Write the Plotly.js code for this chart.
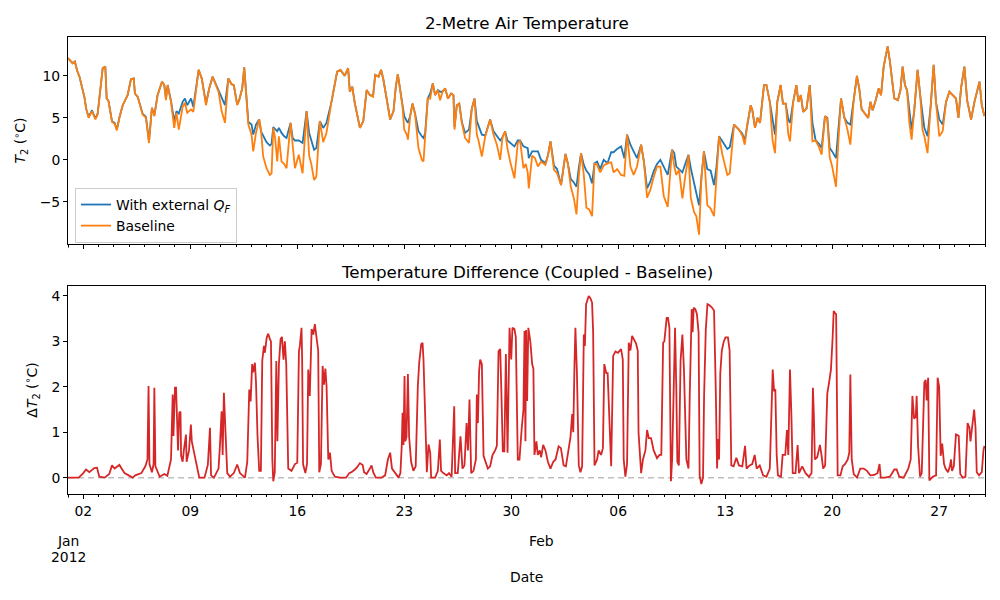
<!DOCTYPE html>
<html>
<head>
<meta charset="utf-8">
<script src="https://cdn.plot.ly/plotly-3.0.1.min.js"></script>
<style>
  html, body { margin: 0; padding: 0; background: #fff; }
  #chart { width: 1000px; height: 600px; }
</style>
</head>
<body>
<div id="chart"></div>
<script>
// Hourly model output, sampled at the turning points; time is in days since 2012-01-01 00:00 UTC.
const tDays = [
  0.00,0.15,0.30,0.45,0.60,0.75,0.90,1.07,1.20,1.35,1.57,1.79,1.94,2.16,2.27,2.44,2.53,2.65,2.88,3.05,
  3.20,3.36,3.58,3.90,4.12,4.30,4.38,4.56,4.88,5.10,5.30,5.49,5.65,5.86,6.15,6.30,6.41,6.52,6.74,6.95,
  7.10,7.25,7.50,7.65,7.80,8.05,8.20,8.55,8.75,9.03,9.24,9.46,9.65,9.85,10.05,10.27,10.49,10.70,10.85,11.07,
  11.20,11.40,11.53,11.69,11.80,12.01,12.12,12.30,12.51,12.62,12.77,12.99,13.21,13.32,13.43,13.55,13.69,13.80,13.97,14.15,
  14.30,14.56,14.70,14.85,15.10,15.35,15.61,15.78,15.92,16.10,16.25,16.48,16.70,16.91,17.24,17.46,17.61,17.83,17.97,18.10,
  18.33,18.44,18.60,18.77,19.10,19.32,19.54,19.76,19.96,20.10,20.32,20.49,20.64,20.86,21.08,21.30,21.45,21.58,21.73,21.89,
  22.00,22.17,22.24,22.39,22.54,22.71,22.93,23.15,23.26,23.37,23.54,23.70,23.87,24.02,24.20,24.35,24.50,24.68,24.86,25.07,
  25.22,25.29,25.44,25.60,25.77,25.98,26.24,26.42,26.60,26.75,26.86,27.08,27.30,27.62,27.84,28.06,28.28,28.43,28.60,28.75,
  28.93,29.21,29.43,29.58,29.80,29.95,30.08,30.15,30.37,30.55,30.75,30.95,31.24,31.40,31.57,31.80,32.00,32.26,32.55,32.70,
  32.90,33.10,33.27,33.42,33.57,33.75,33.92,34.10,34.29,34.45,34.62,34.82,35.05,35.30,35.54,35.70,35.93,36.19,36.40,36.58,
  36.80,37.01,37.23,37.50,37.68,37.89,38.10,38.33,38.54,38.76,38.98,39.24,39.52,39.67,39.80,39.98,40.20,40.40,40.60,40.75,
  40.96,41.11,41.29,41.45,41.61,41.83,42.05,42.27,42.42,42.60,42.82,43.14,43.30,43.58,43.90,44.12,44.28,44.46,44.67,44.78,
  44.95,45.12,45.28,45.54,45.70,45.92,46.10,46.26,46.41,46.63,46.78,46.96,47.13,47.24,47.45,47.66,47.79,47.95,48.10,48.32,
  48.53,48.71,48.92,49.14,49.31,49.53,49.68,49.84,50.00,50.25,50.40,50.58,50.80,51.00,51.19,51.40,51.62,51.77,51.93,52.10,
  52.36,52.50,52.65,52.85,53.04,53.20,53.37,53.63,53.78,53.96,54.07,54.30,54.47,54.61,54.76,54.90,55.05,55.20,55.37,55.59,
  55.76,55.91,56.03,56.24,56.45,56.64,56.79,57.01,57.23,57.45,57.67,57.89,58.10,58.26,58.43,58.65,58.83,59.09,59.31,59.64,
  59.79,59.96
];

// 2 m temperature (°C) with the external anthropogenic heat flux
const tCoupled = [
  12.1,11.8,11.5,11.7,10.6,9.9,8.7,7.5,6.0,5.1,5.9,4.9,5.5,8.9,10.9,11.1,7.3,7.0,4.6,4.4,
  3.6,5.0,6.5,7.7,9.6,9.7,7.9,7.5,5.5,5.1,2.2,6.2,5.3,7.7,9.3,8.9,7.3,8.9,7.0,4.6,
  5.8,5.5,6.9,7.3,6.5,7.3,6.3,10.7,9.7,6.7,8.5,9.9,9.1,8.3,7.5,6.5,9.7,9.0,8.9,6.6,
  7.1,8.5,11.0,6.9,4.5,4.2,3.0,4.2,4.8,3.4,2.8,2.1,1.7,1.9,3.9,3.6,3.4,3.8,3.2,2.8,
  2.6,4.4,2.6,2.3,2.3,2.0,5.8,3.2,2.3,1.2,1.4,4.6,3.8,4.4,6.9,8.9,10.5,10.7,10.3,10.0,
  10.9,8.1,8.7,6.7,3.8,4.6,8.3,7.7,7.6,10.1,9.9,10.7,9.5,7.3,4.8,5.8,8.7,10.2,8.5,6.4,
  5.2,4.6,4.4,5.2,6.7,5.5,3.4,2.8,2.6,3.2,7.3,7.9,9.1,7.7,8.3,8.1,8.1,8.5,7.3,7.9,
  7.7,3.9,6.5,6.7,4.5,3.2,3.6,6.1,7.3,4.6,4.0,3.0,2.9,4.8,3.4,2.8,2.3,2.7,3.4,2.3,
  2.0,1.6,2.3,2.3,1.6,1.5,1.4,0.2,1.0,1.0,1.0,0.0,-0.4,0.5,2.2,-0.7,-1.1,-3.0,0.7,-0.4,
  -2.3,-2.7,-3.2,-1.0,0.8,-0.6,-1.3,-1.7,-2.8,-0.4,-0.2,-1.1,0.0,-0.4,0.9,0.9,1.3,1.6,0.2,3.0,
  1.8,1.0,0.2,1.8,-0.2,-3.4,-2.6,-1.3,-0.5,0.0,-0.8,-1.8,1.2,0.8,-0.8,-1.1,-1.5,-0.4,0.6,-1.0,
  -2.6,-3.8,-5.4,-2.0,1.0,-1.1,-1.3,-3.0,-1.0,2.8,2.2,1.3,1.5,4.2,3.6,3.1,2.3,4.4,6.5,5.9,
  3.8,5.0,4.4,8.9,8.9,6.9,4.6,3.0,6.9,8.9,6.7,6.7,4.8,4.4,6.9,8.9,6.9,7.7,5.7,6.1,
  8.9,4.4,2.3,1.9,1.4,5.2,5.0,1.4,1.0,0.2,3.5,7.3,5.0,4.4,4.2,6.9,10.0,8.5,6.0,5.6,
  5.0,6.9,5.9,7.1,8.5,7.7,11.1,13.5,11.7,8.9,7.3,7.1,8.3,11.1,8.9,8.3,5.8,3.6,5.8,10.7,
  7.7,5.2,3.8,2.8,6.5,11.3,6.9,4.8,4.2,6.9,8.1,7.7,7.3,5.0,8.5,11.1,7.1,4.8,6.9,9.3,
  6.5,5.2
];

// 2 m temperature (°C) of the baseline run
const tBaseline = [
  12.1,11.8,11.5,11.7,10.6,9.9,8.7,7.5,6.0,5.0,5.8,4.8,5.4,8.9,10.9,11.1,7.3,7.0,4.5,4.3,
  3.5,5.0,6.5,7.7,9.6,9.7,7.9,7.5,5.4,5.0,2.0,6.2,5.2,7.7,9.3,8.9,7.1,8.9,6.9,3.8,
  5.6,3.6,6.3,6.8,5.6,6.0,5.7,10.7,9.7,6.5,8.5,9.9,9.1,8.1,5.8,4.4,9.7,9.0,8.9,6.5,
  7.1,8.5,11.0,6.9,4.2,3.0,1.0,3.2,4.8,3.7,0.4,-1.0,-1.8,-1.6,3.8,2.6,-0.2,2.8,-0.2,-0.5,
  -1.0,4.4,1.8,-1.0,0.6,-1.6,5.8,0.5,-0.5,-2.4,-2.0,4.6,2.1,3.2,6.9,8.9,10.5,10.7,10.3,10.0,
  10.9,8.1,8.7,6.7,3.8,4.6,8.3,7.7,7.5,10.1,9.9,10.7,9.5,7.3,4.8,5.8,8.7,10.2,8.5,6.3,
  3.6,3.0,2.4,5.2,6.7,5.4,1.4,0.0,-0.2,2.8,7.3,7.3,9.1,7.7,8.3,7.1,8.1,8.5,7.3,7.9,
  7.7,3.6,6.5,6.7,4.4,2.6,2.0,6.1,7.3,3.0,2.3,0.4,2.8,4.8,3.0,1.8,0.0,2.7,3.4,1.4,
  -0.2,-2.2,2.0,2.3,-1.0,-0.5,-1.5,-3.4,0.5,0.2,-0.8,-0.2,-0.6,0.5,2.2,-1.2,-1.6,-3.0,0.7,-0.4,
  -3.2,-4.6,-6.5,-2.0,0.8,-1.8,-5.7,-5.9,-6.7,-0.4,-0.6,-1.5,-0.7,-0.4,-0.3,-1.5,-1.1,-1.8,-1.9,3.0,
  -0.8,-1.8,-0.8,1.8,-0.2,-4.5,-3.6,-2.0,-0.8,-0.8,-4.3,-5.6,1.2,-0.8,-1.8,-1.2,-4.6,-1.8,0.6,-4.5,
  -6.2,-6.7,-8.9,-2.0,1.0,-5.4,-5.8,-6.7,-2.0,2.8,0.6,-1.8,-1.6,4.2,3.6,2.9,1.8,4.4,6.5,5.9,
  3.8,5.0,4.4,8.9,8.9,6.9,2.3,0.8,6.9,8.9,6.7,6.7,3.0,2.2,6.9,8.9,6.9,7.7,5.7,6.1,
  8.9,2.2,2.3,1.5,0.6,5.2,4.9,0.3,-0.8,-3.2,2.0,7.3,5.0,3.6,1.8,6.9,10.0,8.5,6.0,5.6,
  5.0,6.9,5.9,7.1,8.5,7.7,11.1,13.5,11.7,8.9,7.3,7.1,8.3,11.1,8.9,8.3,4.4,2.4,5.8,10.7,
  7.7,3.6,2.8,0.8,6.5,11.3,6.9,2.8,3.4,6.9,8.1,7.7,7.3,5.0,8.5,11.1,7.1,4.8,6.9,9.3,
  6.5,5.2
];

// Coupled minus baseline (°C), days since 2012-01-01
const dDays = [
  0.00,0.70,1.00,1.18,1.40,1.72,1.90,2.05,2.40,2.70,2.88,3.05,3.36,3.70,4.23,4.40,4.80,5.06,5.20,5.27,
  5.33,5.49,5.60,5.65,5.72,6.00,6.30,6.50,6.74,6.85,6.90,7.00,7.07,7.13,7.20,7.28,7.36,7.40,7.50,7.58,
  7.72,7.76,7.92,8.04,8.10,8.25,8.59,8.93,9.15,9.29,9.36,9.55,9.85,9.94,10.05,10.12,10.20,10.33,10.42,10.60,
  10.85,11.07,11.25,11.58,11.73,11.86,11.95,12.05,12.12,12.23,12.30,12.40,12.51,12.62,12.71,12.82,12.88,13.00,13.10,13.21,
  13.28,13.37,13.43,13.53,13.63,13.70,13.80,13.91,14.00,14.10,14.19,14.28,14.41,14.62,14.85,15.00,15.11,15.17,15.28,15.32,
  15.38,15.53,15.64,15.72,15.82,15.94,16.05,16.15,16.26,16.37,16.44,16.55,16.66,16.75,16.84,16.92,17.03,17.14,17.25,17.46,
  17.80,18.20,18.40,18.55,18.77,18.92,19.10,19.28,19.37,19.54,19.75,19.86,19.97,20.14,20.50,20.75,20.93,21.08,21.20,21.40,
  21.63,21.75,21.84,21.89,21.95,22.02,22.07,22.15,22.24,22.32,22.45,22.60,22.75,22.89,22.98,23.11,23.20,23.26,23.37,23.48,
  23.59,23.70,23.76,24.02,24.20,24.33,24.41,24.56,24.78,24.93,25.10,25.27,25.33,25.50,25.68,25.81,25.94,26.08,26.17,26.27,
  26.38,26.53,26.69,26.75,26.82,26.90,26.97,27.08,27.19,27.30,27.47,27.62,27.78,27.95,28.06,28.17,28.28,28.34,28.45,28.55,
  28.65,28.76,28.89,29.00,29.08,29.21,29.30,29.43,29.54,29.69,29.80,29.87,29.93,29.97,30.04,30.12,30.25,30.37,30.45,30.52,
  30.65,30.74,30.87,30.96,31.09,31.24,31.40,31.57,31.75,31.90,32.10,32.25,32.43,32.58,32.74,32.88,32.99,33.06,33.14,33.20,
  33.30,33.42,33.53,33.64,33.75,33.82,33.90,34.07,34.18,34.29,34.36,34.45,34.62,34.72,34.88,35.00,35.09,35.22,35.31,35.40,
  35.54,35.67,35.82,35.98,36.19,36.30,36.36,36.47,36.58,36.69,36.80,36.91,37.02,37.17,37.28,37.33,37.50,37.62,37.78,37.89,
  38.00,38.15,38.32,38.54,38.70,38.82,38.94,39.02,39.17,39.26,39.35,39.40,39.45,39.53,39.62,39.72,39.80,39.87,39.97,40.08,
  40.20,40.30,40.46,40.60,40.68,40.81,40.87,40.94,41.05,41.15,41.26,41.33,41.44,41.55,41.62,41.73,41.84,41.95,42.12,42.27,
  42.38,42.47,42.53,42.60,42.68,42.78,42.91,43.02,43.18,43.29,43.40,43.55,43.73,43.90,44.12,44.30,44.40,44.60,44.77,44.93,
  45.06,45.26,45.48,45.70,45.92,46.00,46.11,46.20,46.28,46.37,46.45,46.65,46.76,46.93,47.04,47.13,47.24,47.33,47.42,47.60,
  47.74,47.83,48.04,48.26,48.48,48.65,48.74,48.80,48.87,49.02,49.20,49.30,49.41,49.54,49.68,49.80,49.92,50.03,50.10,50.19,
  50.26,50.36,50.54,50.69,50.85,51.02,51.12,51.19,51.28,51.41,51.63,51.84,52.06,52.28,52.50,52.75,52.97,53.10,53.18,53.46,
  53.78,54.07,54.22,54.39,54.68,54.98,55.14,55.25,55.36,55.47,55.53,55.62,55.75,55.86,55.92,56.03,56.12,56.18,56.28,56.36,
  56.58,56.80,56.90,57.00,57.10,57.20,57.32,57.42,57.58,57.70,57.78,57.84,57.96,58.10,58.28,58.38,58.55,58.72,58.86,58.98,
  59.05,59.14,59.29,59.38,59.46,59.61,59.79,59.90,59.96
];
const dT2 = [
  0,0,0.10,0.18,0.12,0.21,0.22,0.02,0,0.08,0.27,0.20,0.28,0.10,0,0.05,0.10,0.25,0.40,2.02,
  0.30,0.12,0.30,1.98,0.25,0.02,0.08,0.04,0.40,1.83,0.92,1.98,1.98,1.35,0.60,1.43,1.45,0.48,0.35,0.60,
  0.95,0.35,0.60,1.17,0.80,0.55,0,0,0.28,1.10,0.05,0,0.20,0.70,1.46,0.50,1.87,0.80,0.10,0.02,
  0.10,0.29,0.10,0,0.35,1.94,1.68,2.50,2.32,2.53,2.10,0.92,0.15,0.15,2.57,2.90,2.75,3.08,3.17,3.05,
  3.00,0.40,-0.08,0.12,2.57,0.80,2.50,3.05,3.10,2.60,3.00,2.50,0.20,0.15,0.30,0.33,2.78,2.90,3.30,2.60,
  0.30,0.10,0.30,2.38,1.80,3.27,3.15,3.38,3.10,2.80,0.12,0.30,2.46,2.05,2.40,2.00,0.40,0.55,0.15,0.02,
  0,0,0.10,0.12,0.18,0.23,0.32,0.28,0.12,0.08,0.20,0.27,0.12,0,0,0.05,0.40,0.55,0.20,0.10,
  0,0.10,0.72,1.43,0.72,2.24,0.80,0.90,2.28,0.90,0.35,0.15,0.25,2.02,2.53,2.94,2.97,2.60,1.08,0.12,
  0.73,0.55,0,0,0.15,0.84,0.15,0.10,0.05,0.10,0.02,1.57,0.10,0.10,0.91,0.20,0.27,1.20,0.60,1.72,
  0.10,0.15,0.40,1.83,1.20,2.35,2.60,2.50,0.48,0.35,0.20,0.25,0.50,0.60,0.70,2.78,2.83,2.10,0.58,0.58,
  2.72,0.55,3.30,2.60,3.30,3.27,3.10,0.40,0.40,1.10,1.50,3.23,0.80,3.25,1.69,3.30,3.00,2.50,2.40,0.50,
  0.80,0.50,0.60,0.45,0.72,0.60,0.35,0.20,0.35,0.40,0.69,0.65,0.27,0.25,0.60,0.90,1.40,1.00,2.50,3.30,
  2.30,0.27,0.12,0.25,3.15,2.90,3.82,4.00,3.95,3.85,3.20,0.27,0.40,0.60,0.50,0.65,2.50,2.30,2.30,1.50,
  0.25,2.68,2.78,2.75,2.83,2.60,0.40,0.02,0.30,2.97,2.80,3.12,3.05,2.95,2.80,1.00,0.10,0.40,0.60,1.05,
  0.87,0.87,0.60,0.43,0.50,0.50,2.97,3.00,3.52,3.52,3.30,1.50,-0.08,0.40,2.10,3.30,2.00,0.35,0.27,2.57,
  3.15,2.40,0.40,0.20,1.80,3.71,3.20,3.74,3.71,3.60,3.20,0.04,-0.14,0,1.80,3.25,3.82,3.80,3.75,3.68,
  2.00,0.20,0.85,0.40,2.30,2.80,3.00,3.09,3.09,2.80,0.27,0.25,0.44,0.27,0.25,0.70,0.20,0.27,0.30,0.50,
  0.20,0.27,0.05,0.02,0.20,1.00,2.38,1.90,1.95,0.50,0.05,0.02,0.50,0.50,1.05,0.50,2.38,1.40,0.10,0.10,
  0.72,0.10,0.25,0.10,0.02,0.10,1.98,1.40,0.40,0.45,0.72,0.50,0.20,0.27,1.85,2.10,2.38,3.08,3.67,3.62,
  3.60,0.05,0.05,0.25,0.30,0.40,0.55,2.27,0.40,0.08,0,0.20,0.20,0.15,0.05,0.06,0.10,0.30,0,0,
  0.02,0.18,0.18,0.02,0,0.20,0.40,1.80,1.30,1.35,1.80,0.70,0.02,0.10,0.75,2.10,2.15,1.70,2.20,-0.06,
  0.02,0.05,2.20,2.00,0.48,0.75,0.30,0.20,0.12,0.25,0.40,0.15,0.25,0.95,0.92,0.08,0,0.02,1.20,1.10,
  0.80,1.10,1.50,1.10,0.12,0.05,0.12,0.60,0.70
];

// Date axis ticks: weekly day labels; month names sit on a lower line
const tickDates = ['2012-01-02','2012-01-09','2012-01-16','2012-01-23','2012-01-30',
                   '2012-02-06','2012-02-13','2012-02-20','2012-02-27'];
const tickLabels = ['02','09','16','23','30','06','13','20','27'];
const monthDates = ['2012-01-01', '2012-02-01'];
const monthNames = ['Jan', 'Feb'];
const yearName = '2012';

const START = Date.UTC(2012, 0, 1);
const toDate = d => new Date(START + Math.round(d * 86400000)).toISOString().slice(0, 19).replace('T', ' ');
const xTop = tDays.map(toDate);
const xDiff = dDays.map(toDate);

const FONT = 'DejaVu Sans, sans-serif';
const LBL = 13.9;

const traces = [
  { x: xTop, y: tCoupled, type: 'scatter', mode: 'lines', name: 'With external <i>Q</i><sub><i>F</i></sub>',
    line: { color: '#1f77b4', width: 1.8 }, xaxis: 'x', yaxis: 'y' },
  { x: xTop, y: tBaseline, type: 'scatter', mode: 'lines', name: 'Baseline',
    line: { color: '#ff7f0e', width: 1.8 }, xaxis: 'x', yaxis: 'y' },
  { x: xDiff, y: dT2, type: 'scatter', mode: 'lines', name: 'ΔT2', showlegend: false,
    line: { color: '#d62728', width: 1.8 }, xaxis: 'x2', yaxis: 'y2' }
];

const xRange = ['2012-01-01 00:00:00', '2012-03-01 00:00:00'];
const commonX = {
  type: 'date', range: xRange, showgrid: false, zeroline: false,
  showline: true, mirror: true, linecolor: '#000', linewidth: 1,
  ticks: 'outside', ticklen: 4, tickcolor: '#000', tickwidth: 1,
  tickmode: 'array', tickvals: tickDates, ticktext: tickLabels, tickangle: 0,
  minor: { tickmode: 'linear', tick0: '2012-01-01', dtick: 86400000, ticks: 'outside', ticklen: 2, tickcolor: '#000', showgrid: false },
  tickfont: { family: FONT, size: LBL, color: '#000' }
};
const commonY = {
  showgrid: false, zeroline: false, showline: true, mirror: true,
  linecolor: '#000', linewidth: 1, ticks: 'outside', ticklen: 4, tickcolor: '#000',
  tickfont: { family: FONT, size: LBL, color: '#000' }
};

const textFont = { family: FONT, size: LBL, color: '#000' };
const annotations = [
  { text: '2-Metre Air Temperature', xref: 'paper', yref: 'paper', x: 0.5265, y: 1 - 23 / 600,
    xanchor: 'center', yanchor: 'middle', showarrow: false, font: { family: FONT, size: 16.7, color: '#000' } },
  { text: 'Temperature Difference (Coupled - Baseline)', xref: 'paper', yref: 'paper', x: 0.5265, y: 1 - 272 / 600,
    xanchor: 'center', yanchor: 'middle', showarrow: false, font: { family: FONT, size: 16.7, color: '#000' } },
  { text: yearName, xref: 'x2', yref: 'paper', x: monthDates[0], y: 1 - 557 / 600,
    xanchor: 'center', yanchor: 'middle', showarrow: false, font: textFont },
  { text: 'Date', xref: 'x2 domain', yref: 'paper', x: 0.5, y: 1 - 577 / 600,
    xanchor: 'center', yanchor: 'middle', showarrow: false, font: textFont }
];
monthNames.forEach((m, i) => annotations.push({
  text: m, xref: 'x2', yref: 'paper', x: monthDates[i], y: 1 - 541 / 600,
  xanchor: 'center', yanchor: 'middle', showarrow: false, font: textFont
}));

// Longer tick marks at the month starts on both date axes
const shapes = [{
  type: 'line', xref: 'x2 domain', yref: 'y2', x0: 0, x1: 1, y0: 0, y1: 0,
  line: { color: 'rgba(128,128,128,0.5)', width: 1.5, dash: '6px,4px' }, layer: 'below'
}];
[['x', 'y domain'], ['x2', 'y2 domain']].forEach(([xr, yr]) => monthDates.forEach(d => shapes.push({
  type: 'line', xref: xr, yref: yr, x0: d, x1: d, y0: 0, y1: -0.02,
  line: { color: '#000', width: 1 }
})));

const layout = {
  width: 1000, height: 600,
  margin: { l: 0, r: 0, t: 0, b: 0 },
  paper_bgcolor: '#fff', plot_bgcolor: '#fff',
  font: { family: FONT, size: LBL, color: '#000' },
  showlegend: true,
  legend: {
    x: 0.075, y: 1 - 188 / 600, xanchor: 'left', yanchor: 'top',
    bgcolor: 'rgba(255,255,255,0.8)', bordercolor: '#cccccc', borderwidth: 1,
    font: { family: FONT, size: LBL, color: '#000' }, tracegroupgap: 0
  },
  xaxis: Object.assign({}, commonX, { domain: [0.068, 0.985], anchor: 'y', showticklabels: false, matches: 'x2' }),
  yaxis: Object.assign({}, commonY, {
    domain: [1 - 244 / 600, 1 - 37 / 600], anchor: 'x', range: [-10.02, 14.62],
    tickvals: [-5, 0, 5, 10], ticktext: ['−5', '0', '5', '10'],
    title: { text: '<i>T</i><sub>2</sub> (<sup>∘</sup>C)', font: { family: FONT, size: LBL }, standoff: 10 }
  }),
  xaxis2: Object.assign({}, commonX, { domain: [0.068, 0.985], anchor: 'y2' }),
  yaxis2: Object.assign({}, commonY, {
    domain: [1 - 494 / 600, 1 - 286 / 600], anchor: 'x2', range: [-0.36, 4.22],
    tickvals: [0, 1, 2, 3, 4],
    title: { text: 'Δ<i>T</i><sub>2</sub> (<sup>∘</sup>C)', font: { family: FONT, size: LBL }, standoff: 10 }
  }),
  shapes: shapes,
  annotations: annotations
};

Plotly.newPlot('chart', traces, layout, { displayModeBar: false, staticPlot: true });
</script>
</body>
</html>
